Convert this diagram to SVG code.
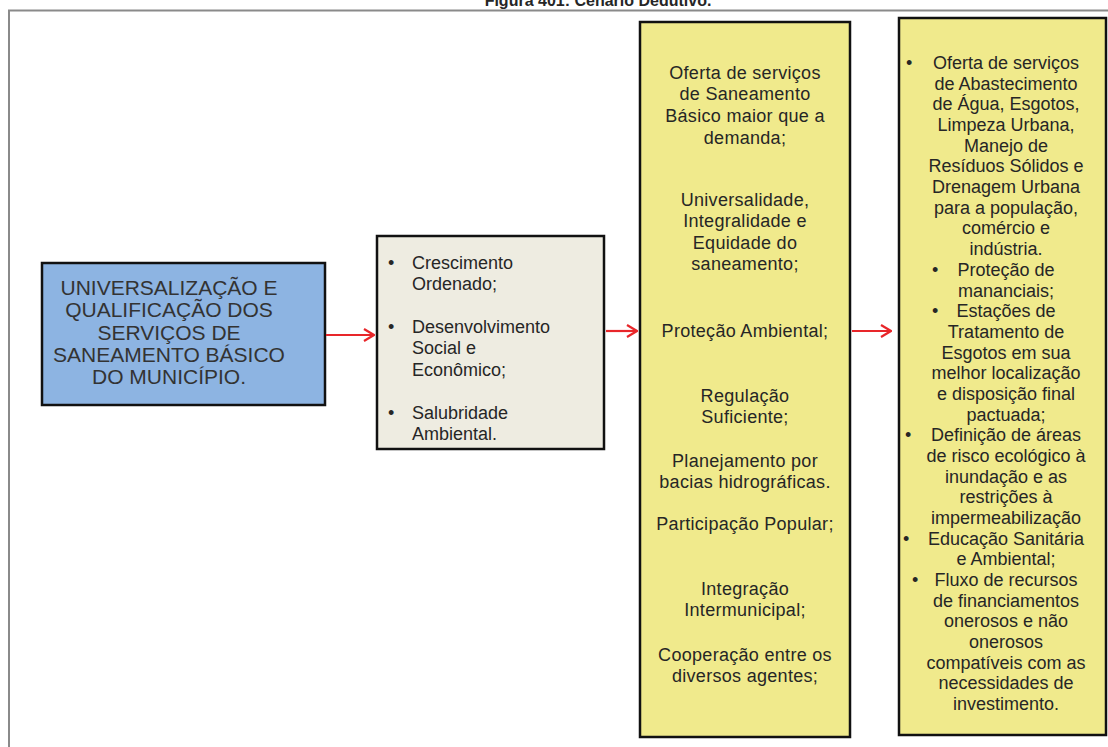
<svg xmlns="http://www.w3.org/2000/svg" width="1108" height="747" viewBox="0 0 1108 747">
<defs>
<style>
.t{font-family:"Liberation Sans",Arial,sans-serif;fill:#262626;font-size:18px}
.c{text-anchor:middle}
.b1{font-size:21px;fill:#333}
.box{stroke:#111;stroke-width:2.5}
.ar{stroke:#e8262a;stroke-width:2.2;fill:none}
</style>
<marker id="ah" viewBox="0 0 12 14" refX="11" refY="7" markerWidth="12" markerHeight="14" markerUnits="userSpaceOnUse" orient="auto">
<path d="M1,1 L11,7 L1,13" fill="none" stroke="#e8262a" stroke-width="2.2"/>
</marker>
</defs>
<rect width="1108" height="747" fill="#fff"/>
<text x="598" y="6" class="t c" style="font-weight:bold;font-size:16px">Figura 401: Cenário Dedutivo.</text>
<path d="M9,747 V10.5 H1108" fill="none" stroke="#8a8a8a" stroke-width="2"/>

<g id="n1">
<rect x="42" y="263" width="283" height="142" fill="#8db4e2" class="box"/>
<text class="t c b1" x="169" y="295">UNIVERSALIZAÇÃO  E</text>
<text class="t c b1" x="169" y="317">QUALIFICAÇÃO  DOS</text>
<text class="t c b1" x="169" y="339.5">SERVIÇOS DE</text>
<text class="t c b1" x="169" y="362">SANEAMENTO  BÁSICO</text>
<text class="t c b1" x="169" y="384">DO MUNICÍPIO.</text>
</g>

<g id="n2">
<rect x="377" y="236" width="227" height="213" fill="#eeece1" class="box"/>
<text class="t" x="388" y="269">•</text><text class="t" x="412" y="269">Crescimento</text>
<text class="t" x="412" y="290">Ordenado;</text>
<text class="t" x="388" y="333">•</text><text class="t" x="412" y="333">Desenvolvimento</text>
<text class="t" x="412" y="354">Social e</text>
<text class="t" x="412" y="376">Econômico;</text>
<text class="t" x="388" y="419">•</text><text class="t" x="412" y="419">Salubridade</text>
<text class="t" x="412" y="440">Ambiental.</text>
</g>

<g id="n3" style="letter-spacing:0.3px">
<rect x="640" y="22" width="210" height="715" fill="#f0ea8c" class="box"/>
<text class="t c" x="745" y="79">Oferta de serviços</text>
<text class="t c" x="745" y="100">de Saneamento</text>
<text class="t c" x="745" y="122">Básico maior que a</text>
<text class="t c" x="745" y="144">demanda;</text>
<text class="t c" x="745" y="206">Universalidade,</text>
<text class="t c" x="745" y="227">Integralidade  e</text>
<text class="t c" x="745" y="249">Equidade  do</text>
<text class="t c" x="745" y="270">saneamento;</text>
<text class="t c" x="745" y="337">Proteção  Ambiental;</text>
<text class="t c" x="745" y="402">Regulação</text>
<text class="t c" x="745" y="423">Suficiente;</text>
<text class="t c" x="745" y="467">Planejamento   por</text>
<text class="t c" x="745" y="488">bacias hidrográficas.</text>
<text class="t c" x="745" y="530">Participação  Popular;</text>
<text class="t c" x="745" y="595">Integração</text>
<text class="t c" x="745" y="616">Intermunicipal;</text>
<text class="t c" x="745" y="661">Cooperação  entre os</text>
<text class="t c" x="745" y="682">diversos agentes;</text>
</g>

<g id="n4">
<rect x="899" y="18" width="207" height="717" fill="#f0ea8c" class="box"/>
<text class="t" x="906" y="69">•</text>
<text class="t" x="932" y="276">•</text>
<text class="t" x="932" y="317.2">•</text>
<text class="t" x="905" y="441.2">•</text>
<text class="t" x="903" y="544.6">•</text>
<text class="t" x="912" y="586">•</text>
<text class="t c" x="1006" y="69">Oferta de serviços</text>
<text class="t c" x="1006" y="89.7">de Abastecimento</text>
<text class="t c" x="1006" y="110.4">de Água, Esgotos,</text>
<text class="t c" x="1006" y="131">Limpeza Urbana,</text>
<text class="t c" x="1006" y="151.7">Manejo de</text>
<text class="t c" x="1006" y="172.4">Resíduos Sólidos e</text>
<text class="t c" x="1006" y="193.1">Drenagem Urbana</text>
<text class="t c" x="1006" y="213.8">para a população,</text>
<text class="t c" x="1006" y="234.4">comércio e</text>
<text class="t c" x="1006" y="255.1">indústria.</text>
<text class="t c" x="1006" y="275.8">Proteção de</text>
<text class="t c" x="1006" y="296.5">mananciais;</text>
<text class="t c" x="1006" y="317.2">Estações de</text>
<text class="t c" x="1006" y="337.8">Tratamento de</text>
<text class="t c" x="1006" y="358.5">Esgotos em sua</text>
<text class="t c" x="1006" y="379.2">melhor localização</text>
<text class="t c" x="1006" y="399.9">e disposição final</text>
<text class="t c" x="1006" y="420.6">pactuada;</text>
<text class="t c" x="1006" y="441.2">Definição de áreas</text>
<text class="t c" x="1006" y="461.9">de risco ecológico à</text>
<text class="t c" x="1006" y="482.6">inundação e as</text>
<text class="t c" x="1006" y="503.3">restrições à</text>
<text class="t c" x="1006" y="524">impermeabilização</text>
<text class="t c" x="1006" y="544.6">Educação Sanitária</text>
<text class="t c" x="1006" y="565.3">e Ambiental;</text>
<text class="t c" x="1006" y="586">Fluxo de recursos</text>
<text class="t c" x="1006" y="606.7">de financiamentos</text>
<text class="t c" x="1006" y="627.4">onerosos e não</text>
<text class="t c" x="1006" y="648">onerosos</text>
<text class="t c" x="1006" y="668.7">compatíveis com as</text>
<text class="t c" x="1006" y="689.4">necessidades de</text>
<text class="t c" x="1006" y="710.1">investimento.</text>
</g>

<g id="connectors">
<line class="ar" x1="326" y1="335" x2="374" y2="335" marker-end="url(#ah)"/>
<line class="ar" x1="606" y1="331" x2="637" y2="331" marker-end="url(#ah)"/>
<line class="ar" x1="852" y1="331" x2="891" y2="331" marker-end="url(#ah)"/>
</g>
</svg>
